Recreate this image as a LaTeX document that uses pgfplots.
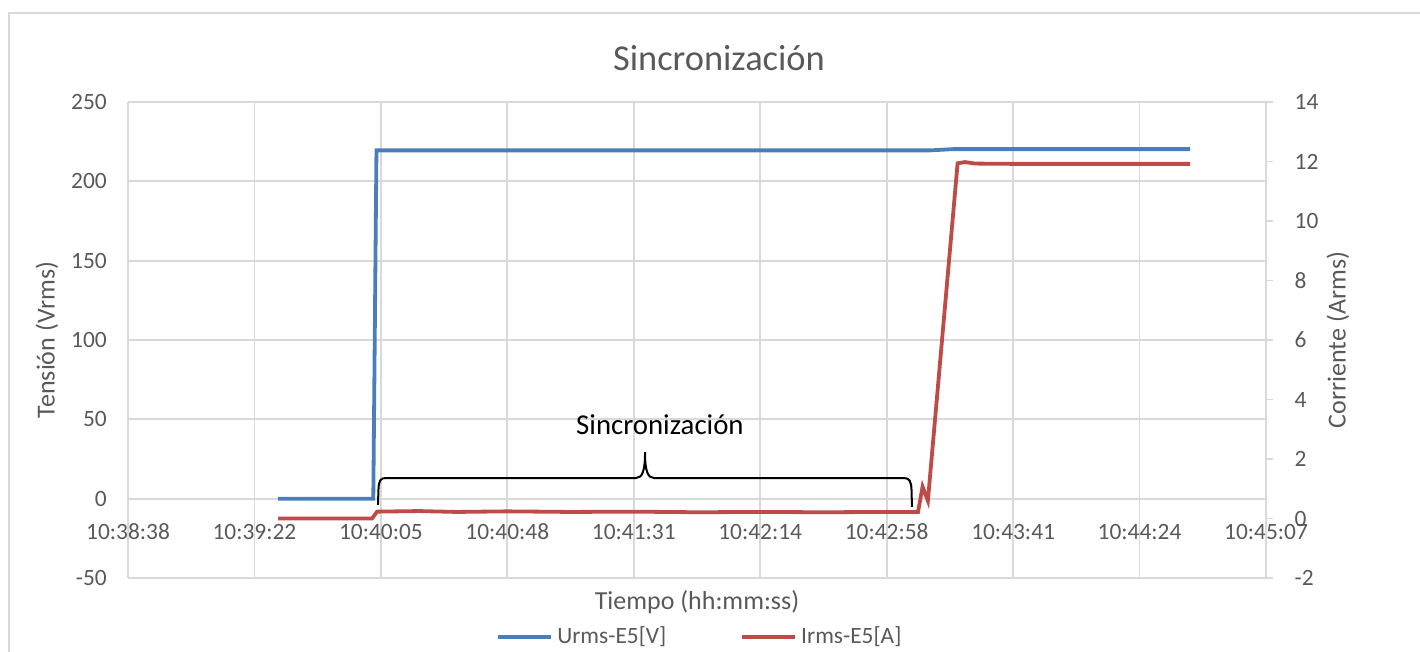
\documentclass[border=0pt]{standalone}
\usepackage{pgfplots}
\pgfplotsset{compat=1.18}
\usepackage{fontspec}
\setmainfont{Carlito}
\definecolor{ublue}{HTML}{4A7EBB}
\definecolor{ired}{HTML}{BE4B48}
\definecolor{txt}{HTML}{595959}
\definecolor{grd}{HTML}{D9D9D9}
\begin{document}
\begin{tikzpicture}
\path[use as bounding box] (-64pt,-37pt) rectangle (646pt,289pt);
\draw[color=grd, line width=1pt] (-59.5pt,-45pt) -- (-59.5pt,282.25pt) -- (660pt,282.25pt);
\begin{axis}[
  at={(0,0)}, anchor=south west, scale only axis,
  width=569pt, height=238pt,
  xmin=0, xmax=9, ymin=-50, ymax=250,
  xtick={0,...,9},
  xticklabels={10:38:38,10:39:22,10:40:05,10:40:48,10:41:31,10:42:14,10:42:58,10:43:41,10:44:24,10:45:07},
  ytick={-50,0,50,100,150,200,250},
  grid=major, major grid style={grd, line width=0.9pt},
  axis line style={draw=none},
  major tick length=0pt,
  tick label style={font=\fontsize{11.7}{14}\selectfont, text=txt},
  xticklabel style={anchor=base, yshift=19.35pt},
  yticklabel style={anchor=east, xshift=-7.1pt},
  /pgf/number format/assume math mode=true,
  legend columns=2,
  legend style={at={(axis description cs:0.5035,-0.124)}, anchor=center, draw=none, fill=none,
    font=\fontsize{11.7}{14}\selectfont, text=txt,
    /tikz/every even column/.append style={column sep=35pt}},
  legend image code/.code={\draw[#1] (0pt,0pt) -- (26.5pt,0pt);},
]
\addplot[ublue, line width=1.9pt] coordinates {
(1.187,0) (1.940,0) (1.965,219.5) (6.343,219.5) (6.527,220.3) (8.40,220.3)
};
\addlegendentry{Urms-E5[V]}
\addlegendimage{ired, line width=1.9pt}
\addlegendentry{Irms-E5[A]}
\draw[black, line width=1pt] (axis cs:1.977,-3.97) -- (axis cs:1.981,6.0)
  .. controls (axis cs:1.985,12.0) and (axis cs:2.000,13.0) .. (axis cs:2.04,13.0)
  -- (axis cs:4.018,13.0)
  .. controls (axis cs:4.07,13.0) and (axis cs:4.089,18.0) .. (axis cs:4.089,29.4)
  .. controls (axis cs:4.089,18.0) and (axis cs:4.108,13.0) .. (axis cs:4.16,13.0)
  -- (axis cs:6.137,13.0)
  .. controls (axis cs:6.18,13.0) and (axis cs:6.195,11.0) .. (axis cs:6.197,5.0)
  -- (axis cs:6.2,-5.2);
\node[font=\fontsize{14.4}{17}\selectfont, text=black] at (axis cs:4.207,46.4) {Sincronización};
\end{axis}
\begin{axis}[
  at={(0,0)}, anchor=south west, scale only axis,
  width=569pt, height=238pt,
  xmin=0, xmax=9, ymin=-2, ymax=14,
  ytick={-2,0,2,4,6,8,10,12,14},
  axis x line=none, axis y line*=right,
  axis line style={grd, line width=0.9pt},
  y tick style={grd, line width=0.9pt},
  tick align=outside, major tick length=3.5pt,
  tick label style={font=\fontsize{11.7}{14}\selectfont, text=txt},
  yticklabel style={anchor=west, xshift=7.3pt},
  /pgf/number format/assume math mode=true,
]
\addplot[ired, line width=1.9pt] coordinates {
(1.187,0.0) (1.93,0.0) (1.97,0.23) (2.3,0.25) (2.6,0.22) (3.0,0.24) (3.5,0.22)
(4.0,0.23) (4.5,0.21) (5.0,0.22) (5.5,0.21) (6.0,0.22) (6.248,0.22)
(6.284,1.07) (6.326,0.6) (6.561,11.94) (6.62,11.98) (6.7,11.93) (7.0,11.92) (8.40,11.92)
};
\end{axis}
\node[text=txt, font=\fontsize{18.2}{22}\selectfont] at (295.5pt,260pt) {Sincronización};
\node[text=txt, font=\fontsize{13}{16}\selectfont, rotate=90] at (-40.5pt,119pt) {Tensión (Vrms)};
\node[text=txt, font=\fontsize{13}{16}\selectfont, rotate=90] at (605pt,119pt) {Corriente (Arms)};
\node[text=txt, font=\fontsize{13}{16}\selectfont] at (284.5pt,-12pt) {Tiempo (hh:mm:ss)};
\end{tikzpicture}
\end{document}
